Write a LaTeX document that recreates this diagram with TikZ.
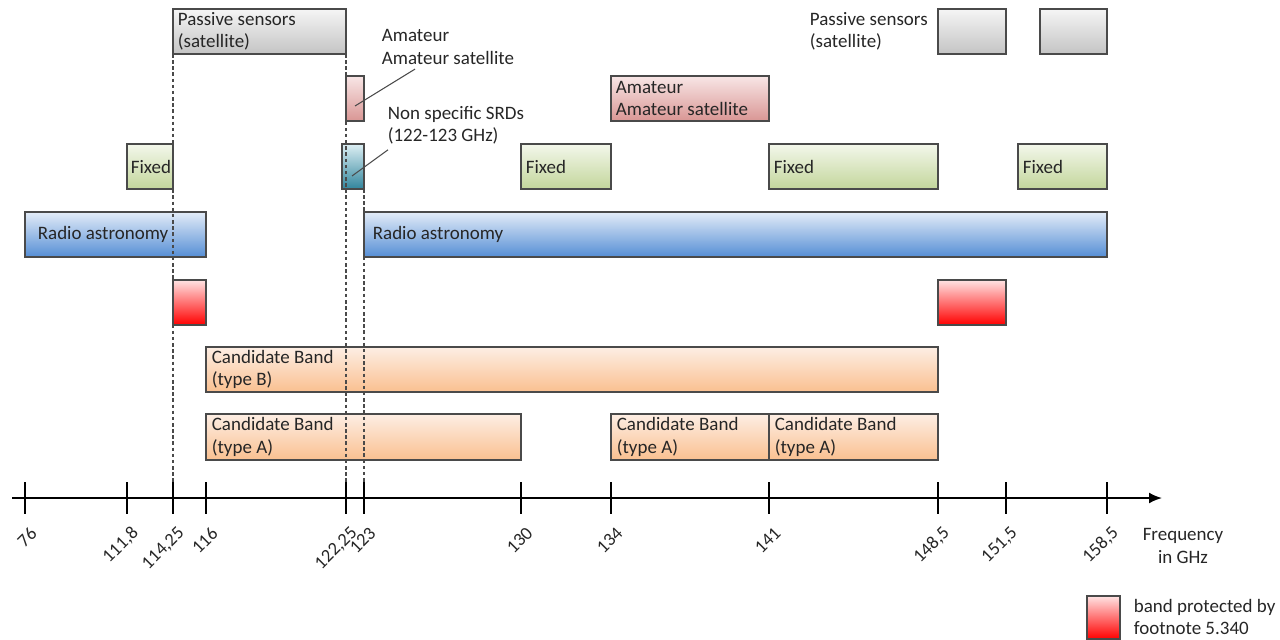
\documentclass[tikz,border=0pt]{standalone}
\usepackage{fontspec}
\setmainfont{Carlito}
\usetikzlibrary{arrows.meta}

\definecolor{edge}{HTML}{4A4A4A}
\definecolor{txt}{HTML}{262626}
\definecolor{grayTop}{HTML}{F5F5F5}
\definecolor{grayBot}{HTML}{C4C4C4}
\definecolor{amaTop}{HTML}{F8E6E6}
\definecolor{amaBot}{HTML}{D99694}
\definecolor{srdTop}{HTML}{DDEFF4}
\definecolor{srdBot}{HTML}{31859C}
\definecolor{fixTop}{HTML}{F3F7EB}
\definecolor{fixBot}{HTML}{C3D69B}
\definecolor{raTop}{HTML}{E3ECF8}
\definecolor{raBot}{HTML}{558ED5}
\definecolor{redTop}{HTML}{FFE3E3}
\definecolor{redBot}{HTML}{FF0000}
\definecolor{candTop}{HTML}{FDEEE4}
\definecolor{candBot}{HTML}{FAC090}

\begin{document}
\begin{tikzpicture}[x=0.2mm,y=-0.2mm,
    band/.style={draw=edge, line width=0.6pt},
    passive/.style={band, top color=grayTop, bottom color=grayBot},
    amateur/.style={band, top color=amaTop, bottom color=amaBot},
    srd/.style={band, top color=srdTop, bottom color=srdBot},
    fixed/.style={band, top color=fixTop, bottom color=fixBot},
    radio/.style={band, top color=raTop, bottom color=raBot},
    protect/.style={band, top color=redTop, bottom color=redBot},
    cand/.style={band, top color=candTop, bottom color=candBot},
    lbl/.style={anchor=west, align=left, inner sep=2pt, text=txt,
        font=\fontsize{10.8}{12.6}\selectfont},
    vline/.style={edge, line width=0.6pt, dash pattern=on 2pt off 1.5pt},
    pointer/.style={edge, line width=0.6pt},
    tickmark/.style={black, line width=1pt},
    freq/.style={rotate=45, anchor=east, inner sep=1pt, text=txt,
        font=\fontsize{10.5}{12}\selectfont}
]
\useasboundingbox (0,0) rectangle (1280,640);

% top row: passive sensors
\draw[passive] (173,9) rectangle (346,54);
\node[lbl] (ps1) at (174,31.5) {Passive sensors\\(satellite)};
\draw[passive] (938,9) rectangle (1006,54);
\draw[passive] (1040,9) rectangle (1107,54);
\node[lbl] (ps2) at (806,31.5) {Passive sensors\\(satellite)};

% amateur
\draw[amateur] (346,76) rectangle (364,121);
\coordinate (amabox) at (355,106);
\node[lbl] (ama1) at (378,47) {Amateur\\Amateur satellite};
\draw[amateur] (611,76) rectangle (769,121);
\node[lbl] (ama2) at (612,98.5) {Amateur\\Amateur satellite};

% fixed + SRD
\draw[srd] (342,144) rectangle (364,189);
\coordinate (srdbox) at (352,176);
\node[lbl] (srd) at (384,125) {Non specific SRDs\\(122-123 GHz)};
\draw[fixed] (127,144) rectangle (173,189);
\node[lbl] (fx1) at (127,166.5) {Fixed};
\draw[fixed] (521,144) rectangle (611,189);
\node[lbl] (fx2) at (522,166.5) {Fixed};
\draw[fixed] (769,144) rectangle (938,189);
\node[lbl] (fx3) at (770,166.5) {Fixed};
\draw[fixed] (1018,144) rectangle (1107,189);
\node[lbl] (fx4) at (1019,166.5) {Fixed};

% radio astronomy
\draw[radio] (25,212) rectangle (206,257);
\node[lbl] (ra1) at (34,234.5) {Radio astronomy};
\draw[radio] (364,212) rectangle (1107,257);
\node[lbl] (ra2) at (369,234.5) {Radio astronomy};

% footnote 5.340
\draw[protect] (173,280) rectangle (206,325);
\draw[protect] (938,280) rectangle (1006,325);

% candidate bands
\draw[cand] (206,347) rectangle (938,392);
\node[lbl] (cb) at (208,369.5) {Candidate Band\\(type B)};
\draw[cand] (206,414) rectangle (521,460);
\node[lbl] (ca1) at (208,437) {Candidate Band\\(type A)};
\draw[cand] (611,414) rectangle (769,460);
\node[lbl] (ca2) at (613,437) {Candidate Band\\(type A)};
\draw[cand] (769,414) rectangle (938,460);
\node[lbl] (ca3) at (771,437) {Candidate Band\\(type A)};

% pointers
\coordinate (amatip) at ([shift={(37,1)}]ama1.south west);
\coordinate (srdtip) at ([shift={(4,2)}]srd.south west);
\draw[pointer] (amabox) -- (amatip);
\draw[pointer] (srdbox) -- (srdtip);

% guide lines
\draw[vline] (173,54) -- (173,498);
\draw[vline] (346,54) -- (346,498);
\draw[vline] (364,189) -- (364,498);

% axis
\draw[black, line width=1.1pt, -{Latex[length=2.6mm,width=2.2mm]}] (12,498) -- (1162,498);
\foreach \x/\f [count=\i] in {25/76, 127/{111,8}, 173/{114,25}, 206/116,
    346/{122,25}, 364/123, 521/130, 611/134, 769/141, 938/{148,5},
    1006/{151,5}, 1107/{158,5}} {
  \draw[tickmark] (\x,482) -- (\x,514);
  \node[freq] (f\i) at (\x+10,529) {\f};
}
\node[align=center, inner sep=1pt, text=txt, font=\fontsize{10.8}{12.6}\selectfont]
  (unit) at (1183,546) {Frequency\\in GHz};

% legend
\draw[protect] (1087,596) rectangle (1120,639);
\node[lbl] (leg) at (1130,617) {band protected by\\footnote 5.340};
\end{tikzpicture}
\end{document}
